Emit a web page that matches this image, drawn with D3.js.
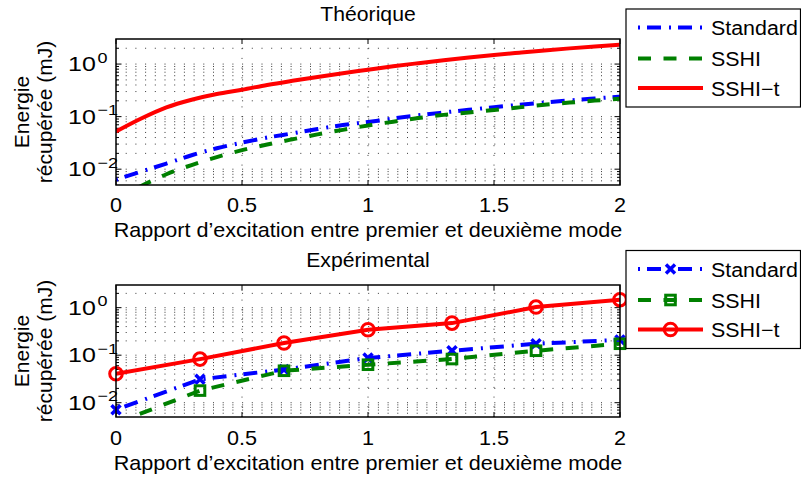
<!DOCTYPE html>
<html><head><meta charset="utf-8">
<script src="https://cdn.jsdelivr.net/npm/d3@7"></script>
<style>
html,body{margin:0;padding:0;background:#fff;}
svg{display:block;font-family:"Liberation Sans",Arial,Helvetica,sans-serif;}
</style></head>
<body>
<svg id="chart" width="801" height="480"></svg>
<script>
// ---------- data ----------
const xTicks = [0, 0.5, 1, 1.5, 2];
const yTickExps = [0, -1, -2];
const seriesNames = ["Standard", "SSHI", "SSHI\u2212t"];

// Théorique
const thX = [0, 0.1, 0.2, 0.3, 0.4, 0.5, 0.6, 0.7, 0.8, 0.9, 1.0, 1.1, 1.2, 1.3, 1.4, 1.5, 1.6, 1.7, 1.8, 1.9, 2.0];
const thStandard = [0.0063, 0.009, 0.0128, 0.0184, 0.025, 0.032, 0.040, 0.048, 0.058, 0.069, 0.079, 0.092, 0.106, 0.120, 0.135, 0.151, 0.168, 0.185, 0.203, 0.221, 0.24];
const thSSHI = [0.0028, 0.0048, 0.0080, 0.012, 0.017, 0.023, 0.0295, 0.037, 0.046, 0.056, 0.068, 0.080, 0.094, 0.108, 0.120, 0.134, 0.150, 0.168, 0.185, 0.202, 0.218];
const thSSHIt = [0.052, 0.092, 0.15, 0.21, 0.27, 0.325, 0.40, 0.48, 0.57, 0.67, 0.78, 0.91, 1.04, 1.18, 1.33, 1.49, 1.65, 1.82, 1.99, 2.16, 2.33];

// Expérimental
const exX = [0, 0.3333, 0.6667, 1, 1.3333, 1.6667, 2];
const exStandard = [0.0071, 0.031, 0.05, 0.087, 0.124, 0.174, 0.21];
const exSSHI = [0.0037, 0.018, 0.047, 0.063, 0.083, 0.124, 0.174];
const exSSHIt = [0.0406, 0.0827, 0.18, 0.343, 0.473, 1.03, 1.47];

// ---------- drawing ----------
const svg = d3.select("#chart");
svg.append("rect").attr("width", 801).attr("height", 480).attr("fill", "#fff");

const colors = ["#0000ff", "#008000", "#ff0000"];
const dashes = ["2,7,14,8", "13,12.5", null];
const yDomain = [0.005, 3];

function stext(g, x, y, str, size, k, anchor, rot) {
  const t = g.append("text")
    .attr("transform", `translate(${x},${y})` + (rot ? ` rotate(${rot})` : "") + ` scale(${k},1)`)
    .attr("text-anchor", anchor || "middle")
    .style("font-size", size + "px")
    .attr("fill", "#000")
    .text(str);
  return t;
}

function marker(g, type, cx, cy, color) {
  if (type === 0) {
    const s = 4.5;
    g.append("path").attr("d", `M${cx - s},${cy - s}L${cx + s},${cy + s}M${cx - s},${cy + s}L${cx + s},${cy - s}`)
      .attr("stroke", color).attr("stroke-width", 3.5).attr("fill", "none");
  } else if (type === 1) {
    const s = 4.8;
    g.append("rect").attr("x", cx - s).attr("y", cy - s).attr("width", 2 * s).attr("height", 2 * s)
      .attr("stroke", color).attr("stroke-width", 3).attr("fill", "none");
  } else {
    g.append("circle").attr("cx", cx).attr("cy", cy).attr("r", 6.3)
      .attr("stroke", color).attr("stroke-width", 3).attr("fill", "none");
  }
}

function panel(cfg) {
  const {top, bottom, left, right, title, titleY, tickY, labelY, xs, series, markers, curve, legTop, id} = cfg;
  const g = svg.append("g");
  const x = d3.scaleLinear().domain([0, 2]).range([left, right]);
  const y = d3.scaleLog().domain(yDomain).range([bottom, top]);

  g.append("clipPath").attr("id", id).append("rect")
    .attr("x", left).attr("y", top).attr("width", right - left).attr("height", bottom - top);

  // grid
  const gridVals = [];
  for (let e = -3; e <= 0; e++) for (let m = 1; m <= 9; m++) {
    const v = m * Math.pow(10, e);
    if (v > yDomain[0] * 1.0001 && v < yDomain[1] * 0.9999) gridVals.push(v);
  }
  g.selectAll(".hg").data(gridVals).enter().append("line")
    .attr("x1", left).attr("x2", right).attr("y1", d => y(d)).attr("y2", d => y(d))
    .attr("stroke", "#222").attr("stroke-width", 0.9).attr("stroke-dasharray", "1,8.7");
  g.selectAll(".vg").data(xTicks.slice(1, -1)).enter().append("line")
    .attr("x1", d => x(d)).attr("x2", d => x(d)).attr("y1", bottom).attr("y2", top)
    .attr("stroke", "#222").attr("stroke-width", 0.9).attr("stroke-dasharray", "1,8.7");

  // ticks (inward, all sides)
  const tk = g.append("g").attr("stroke", "#000").attr("stroke-width", 1);
  xTicks.forEach(v => {
    tk.append("line").attr("x1", x(v)).attr("x2", x(v)).attr("y1", bottom).attr("y2", bottom - 5);
    tk.append("line").attr("x1", x(v)).attr("x2", x(v)).attr("y1", top).attr("y2", top + 5);
  });
  gridVals.forEach(v => {
    const major = Math.abs(Math.log10(v) - Math.round(Math.log10(v))) < 1e-6;
    const L = major ? 5.5 : 3;
    tk.append("line").attr("x1", left).attr("x2", left + L).attr("y1", y(v)).attr("y2", y(v));
    tk.append("line").attr("x1", right).attr("x2", right - L).attr("y1", y(v)).attr("y2", y(v));
  });

  // series lines
  const line = d3.line().x(d => x(d[0])).y(d => y(d[1])).curve(curve);
  series.forEach((vals, i) => {
    const pts = xs.map((xv, j) => [xv, vals[j]]);
    g.append("path").attr("d", line(pts)).attr("clip-path", `url(#${id})`)
      .attr("fill", "none").attr("stroke", colors[i]).attr("stroke-width", 4)
      .attr("stroke-dasharray", dashes[i]);
    if (markers) {
      pts.forEach(p => {
        if (p[1] >= yDomain[0] && p[1] <= yDomain[1]) marker(g, i, x(p[0]), y(p[1]), colors[i]);
      });
    }
  });

  // frame
  g.append("rect").attr("x", left).attr("y", top).attr("width", right - left).attr("height", bottom - top)
    .attr("fill", "none").attr("stroke", "#000").attr("stroke-width", 1.5);

  // tick labels
  xTicks.forEach(v => stext(g, x(v), tickY, d3.format("~g")(v), 20, 1.08, "middle"));
  yTickExps.forEach(e => {
    const yy = y(Math.pow(10, e));
    stext(g, 68, yy + 7, "10", 20, 1.25, "start");
    stext(g, 97.5, yy - 1.5, e === 0 ? "0" : "\u2212" + (-e), 15, 1.2, "start");
  });

  // titles / labels
  stext(g, (left + right) / 2, titleY, title, 20, 1.06, "middle");
  stext(g, (left + right) / 2, labelY, "Rapport d\u2019excitation entre premier et deuxi\u00e8me mode", 20, 1.08, "middle");
  const cy = (top + bottom) / 2;
  stext(g, 28.5, cy, "Energie", 21, 1.0, "middle", -90);
  stext(g, 51.5, cy, "r\u00e9cup\u00e9r\u00e9e (mJ)", 21, 1.0, "middle", -90);

  // legend
  const lg = g.append("g");
  const lx = 626, lw = 174.5, lh = 98;
  lg.append("rect").attr("x", lx).attr("y", legTop).attr("width", lw).attr("height", lh)
    .attr("fill", "#fff").attr("stroke", "#000").attr("stroke-width", 1.2);
  const rows = [18.5, 49.5, 79];
  seriesNames.forEach((name, i) => {
    const ry = legTop + rows[i];
    lg.append("line").attr("x1", 638).attr("x2", 703).attr("y1", ry).attr("y2", ry)
      .attr("stroke", colors[i]).attr("stroke-width", 4).attr("stroke-dasharray", dashes[i]);
    if (markers) marker(lg, i, 670.5, ry, colors[i]);
    stext(lg, 711, ry + 7.5, name, 20, 1.07, "start");
  });
}

panel({id: "c1", top: 39, bottom: 185, left: 116, right: 620, title: "Th\u00e9orique", titleY: 21,
  tickY: 212, labelY: 237, xs: thX, series: [thStandard, thSSHI, thSSHIt], markers: false,
  curve: d3.curveMonotoneX, legTop: 9});
panel({id: "c2", top: 285, bottom: 417, left: 116, right: 620, title: "Exp\u00e9rimental", titleY: 267,
  tickY: 445, labelY: 470, xs: exX, series: [exStandard, exSSHI, exSSHIt], markers: true,
  curve: d3.curveLinear, legTop: 250.5});
</script>
</body></html>
